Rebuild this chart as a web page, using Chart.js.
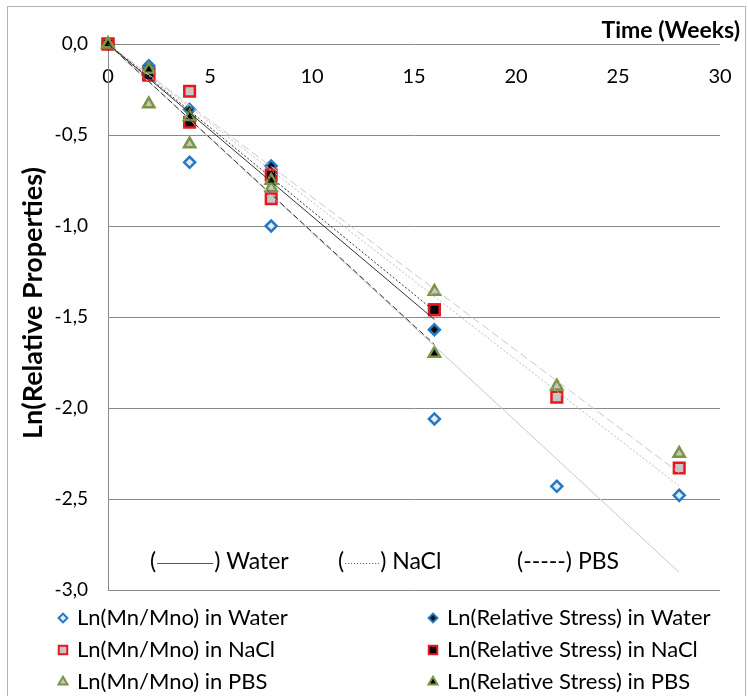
<!DOCTYPE html>
<html>
<head>
<meta charset="utf-8">
<script src="https://cdn.jsdelivr.net/npm/chart.js@4.4.1/dist/chart.umd.min.js"></script>
<style>
body { margin: 0; background: #fff; }
canvas { display: block; }
</style>
</head>
<body>
<canvas id="chart" width="748" height="696"></canvas>
<script>
// time points (weeks)
var mnWeeks = [0, 2, 4, 8, 16, 22, 28];
var stressWeeks = [0, 2, 4, 8, 16];

// Ln(Mn/Mno)
var mnWater = [0, -0.13, -0.65, -1.00, -2.06, -2.43, -2.48];
var mnNaCl  = [0, -0.17, -0.26, -0.85, -1.46, -1.94, -2.33];
var mnPBS   = [0, -0.33, -0.55, -0.79, -1.36, -1.88, -2.25];

// Ln(Relative Stress)
var stressWater = [0, -0.12, -0.36, -0.67, -1.57];
var stressNaCl  = [0, -0.17, -0.43, -0.72, -1.46];
var stressPBS   = [0, -0.14, -0.40, -0.75, -1.70];

var xTicks = [0, 5, 10, 15, 20, 25, 30];
var yTicks = [0, -0.5, -1, -1.5, -2, -2.5, -3];

var FONT = 'Lato, "Open Sans", sans-serif';

function pts(xs, ys) {
	return xs.map(function (x, i) { return { x: x, y: ys[i] }; });
}

// linear trendline forced through the origin (as in the spreadsheet)
function trend(xs, ys) {
	var sxy = 0, sxx = 0;
	for (var i = 0; i < xs.length; i++) { sxy += xs[i] * ys[i]; sxx += xs[i] * xs[i]; }
	var k = sxy / sxx, last = xs[xs.length - 1];
	return [{ x: 0, y: 0 }, { x: last, y: k * last }];
}

function markers(label, xs, ys, style, fill, border, r, order) {
	return {
		type: 'scatter', label: label, data: pts(xs, ys), order: order, clip: false,
		pointStyle: style, pointRadius: r, pointHoverRadius: r,
		backgroundColor: fill, borderColor: border, pointBorderWidth: 2.5
	};
}

function trendLine(xs, ys, color, dash, order) {
	return {
		type: 'line', label: '', isTrend: true, data: trend(xs, ys), order: order, clip: false,
		borderColor: color, borderWidth: 1, borderDash: dash, pointRadius: 0, fill: false
	};
}

var BLUE = '#2479c4', RED = '#e5191f', GREEN = '#7a9645', GREY = '#c6c6c6';

var datasets = [
	markers('Ln(Mn/Mno) in Water', mnWeeks, mnWater, 'rectRot', '#e4ecf4', BLUE, 5.5, 16),
	markers('Ln(Relative Stress) in Water', stressWeeks, stressWater, 'rectRot', '#111', BLUE, 5.5, 15),
	markers('Ln(Mn/Mno) in NaCl', mnWeeks, mnNaCl, 'rect', GREY, RED, 7.5, 14),
	markers('Ln(Relative Stress) in NaCl', stressWeeks, stressNaCl, 'rect', '#000', RED, 7.5, 13),
	markers('Ln(Mn/Mno) in PBS', mnWeeks, mnPBS, 'triangle', GREY, GREEN, 6.5, 12),
	markers('Ln(Relative Stress) in PBS', stressWeeks, stressPBS, 'triangle', '#000', GREEN, 6.5, 11),
	trendLine(mnWeeks, mnWater, '#c8c8c8', [], 5),
	trendLine(mnWeeks, mnNaCl, '#bdbdbd', [2, 2], 4),
	trendLine(mnWeeks, mnPBS, '#c8c8c8', [8, 4], 3),
	trendLine(stressWeeks, stressWater, '#333', [], 2),
	trendLine(stressWeeks, stressNaCl, '#333', [2, 2], 1),
	trendLine(stressWeeks, stressPBS, '#333', [6, 3], 0)
];

var decor = {
	id: 'decor',
	beforeDraw: function (chart) {
		var ctx = chart.ctx;
		ctx.save();
		ctx.fillStyle = '#fff';
		ctx.fillRect(0, 0, chart.width, chart.height);
		ctx.strokeStyle = '#b4b4b4';
		ctx.lineWidth = 1;
		ctx.strokeRect(7.5, 6.5, 738, 720);
		ctx.restore();
	},
	afterDraw: function (chart) {
		var ctx = chart.ctx;
		ctx.save();
		ctx.fillStyle = '#000';
		// axis titles
		ctx.font = 'bold 23px ' + FONT;
		ctx.textAlign = 'right';
		ctx.textBaseline = 'middle';
		ctx.fillText('Time (Weeks)', 740, 31);
		ctx.save();
		ctx.font = 'bold 27px ' + FONT;
		ctx.translate(33, 303);
		ctx.rotate(-Math.PI / 2);
		ctx.textAlign = 'center';
		ctx.fillText('Ln(Relative Properties)', 0, 0);
		ctx.restore();
		// line style key
		ctx.font = '23px ' + FONT;
		ctx.textAlign = 'left';
		var y = 562;
		function key(x0, dash, len, name) {
			ctx.fillStyle = '#000';
			ctx.fillText('(', x0, y);
			var lx = x0 + ctx.measureText('(').width + 1;
			ctx.strokeStyle = '#555';
			ctx.lineWidth = 1;
			ctx.setLineDash(dash);
			ctx.beginPath();
			ctx.moveTo(lx, y + 1.5);
			ctx.lineTo(lx + len, y + 1.5);
			ctx.stroke();
			ctx.setLineDash([]);
			ctx.fillText(') ' + name, lx + len + 1, y);
		}
		key(150, [], 56, 'Water');
		key(338, [1, 2], 34, 'NaCl');
		ctx.fillText('(-----) PBS', 517, y);
		// legend: two columns, three rows
		ctx.font = '22px ' + FONT;
		var items = chart.data.datasets.filter(function (d) { return !d.isTrend; });
		items.forEach(function (d, i) {
			var col = i % 2, row = Math.floor(i / 2);
			var mx = col ? 433 : 63, ly = 618 + row * 32;
			ctx.fillStyle = d.backgroundColor;
			ctx.strokeStyle = d.borderColor;
			ctx.lineWidth = 2;
			Chart.helpers.drawPoint(ctx, { pointStyle: d.pointStyle, radius: d.pointRadius * 0.8, rotation: 0, borderWidth: 2 }, mx, ly);
			ctx.fillStyle = '#000';
			ctx.fillText(d.label, mx + 14, ly);
		});
		ctx.restore();
	}
};

var chart = new Chart(document.getElementById('chart'), {
	data: { datasets: datasets },
	options: {
		responsive: false,
		animation: false,
		layout: { padding: { top: 44, bottom: 106, left: 0, right: 28 } },
		plugins: { legend: { display: false }, tooltip: { enabled: false } },
		scales: {
			x: {
				type: 'linear', position: { y: 0 }, min: 0, max: 30,
				afterBuildTicks: function (s) { s.ticks = xTicks.map(function (v) { return { value: v }; }); },
				afterFit: function (s) { s.paddingLeft = 0; s.paddingRight = 0; },
				grid: { display: false, drawTicks: false },
				border: { display: false },
				ticks: { color: '#000', font: { family: FONT, size: 20 }, padding: 21, maxRotation: 0 }
			},
			y: {
				type: 'linear', position: 'left', min: -3, max: 0,
				afterBuildTicks: function (s) { s.ticks = yTicks.map(function (v) { return { value: v }; }); },
				afterFit: function (s) { s.width = 108; },
				grid: { color: '#8a8a8a', drawTicks: false },
				border: { color: '#8a8a8a' },
				ticks: {
					color: '#000', font: { family: FONT, size: 19 }, padding: 20,
					callback: function (v) { return v.toFixed(1).replace('.', ','); }
				}
			}
		}
	},
	plugins: [decor]
});
</script>
</body>
</html>
